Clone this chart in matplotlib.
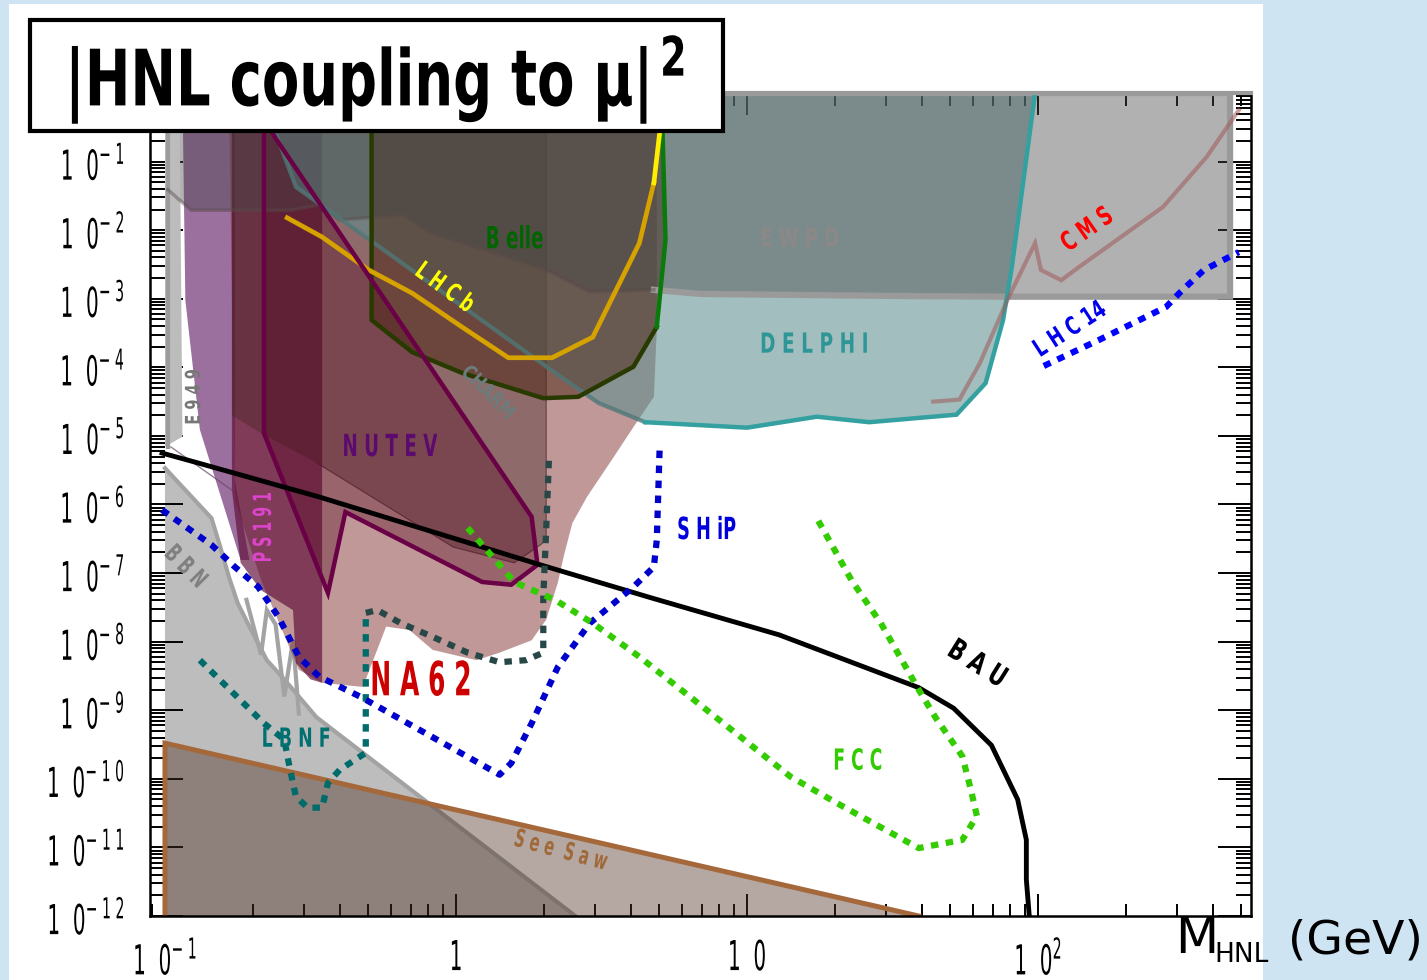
import numpy as np
import matplotlib
matplotlib.use("Agg")
import matplotlib.pyplot as plt
from matplotlib.patches import Rectangle
from matplotlib.patheffects import AbstractPathEffect
from matplotlib.transforms import Affine2D
from matplotlib.ticker import FixedLocator, LogLocator, NullFormatter

plt.rcParams['font.family'] = ['DejaVu Sans']

# ---- exclusion regions and sensitivity curves, log10(M/GeV) vs log10|U_mu|^2 ----
bbn_m = [-1.00, -0.84, -0.81, -0.78, -0.75, -0.71, -0.65, -0.59, -0.54, -0.48, 0.41, -1.00]
bbn_u = [-5.47, -6.20, -6.62, -7.06, -7.44, -7.78, -8.27, -8.55, -8.80, -9.10, -12.00, -12.00]
bbn_zig_m = [-0.72, -0.67, -0.65, -0.62, -0.59, -0.56, -0.54]
bbn_zig_u = [-7.39, -8.19, -7.54, -7.75, -8.80, -7.98, -9.05]

seesaw_m = [-1.00, -1.00, 1.59]
seesaw_u = [-12.00, -9.48, -12.00]

e949_m = [-1.00, -0.95, -0.94, -1.00]
e949_u = [0.00, 0.00, -5.01, -5.16]
e949_edge_m = [-0.98, -0.77]
e949_edge_u = [-5.16, -5.79]

purple_m = [-0.94, -0.76, -0.76, -0.71, -0.74, -0.88, -0.93]
purple_u = [0.00, 0.00, -5.64, -6.81, -6.81, -4.91, -3.02]

ps191_m = [-0.77, -0.46, -0.46, -0.50, -0.55, -0.56, -0.67, -0.74, -0.77]
ps191_u = [0.00, 0.00, -8.60, -8.55, -8.31, -7.54, -7.25, -6.85, -5.79]

na62_m = [-0.78, 0.69, 0.69, 0.68, 0.61, 0.54, 0.45, 0.40, 0.37, 0.35, 0.31,
          0.26, 0.15, 0.07, -0.08, -0.16, -0.24, -0.32, -0.46, -0.54, -0.67, -0.76]
na62_u = [0.00, 0.00, -3.45, -4.43, -4.87, -5.32, -5.89, -6.27, -6.76, -7.14, -7.68,
          -7.98, -8.16, -8.27, -8.12, -7.83, -7.78, -8.66, -8.60, -8.41, -7.10, -5.93]

charm_m = [-0.77, 0.31, 0.31, 0.29, 0.20, -0.01, -0.48, -0.67, -0.77]
charm_u = [0.00, 0.00, -6.52, -6.59, -6.85, -6.62, -5.39, -4.96, -4.70]

delphi_m = [-0.64, -0.62, -0.55, 0.34, 0.49, 0.65, 1.00, 1.24, 1.42, 1.72, 1.82, 1.88, 1.91, 1.99]
delphi_u = [0.00, -0.58, -1.37, -4.08, -4.52, -4.80, -4.88, -4.72, -4.80, -4.69, -4.23, -3.31, -2.54, 0.00]

belle_m = [-0.29, -0.29, -0.15, 0.02, 0.30, 0.42, 0.61, 0.69, 0.72, 0.71, 0.71]
belle_u = [0.00, -3.31, -3.78, -4.08, -4.45, -4.43, -3.99, -3.41, -2.14, -0.58, 0.00]

ewpd_m = [-0.99, 2.66, 2.66, 1.90, 1.53, 0.84, 0.68, 0.46, 0.31, -0.09, -0.18, -0.40, -0.47, -0.57, -0.91, -0.99]
ewpd_u = [0.00, 0.00, -2.97, -2.97, -2.96, -2.93, -2.87, -2.90, -2.58, -2.04, -1.78, -1.85, -1.63, -1.71, -1.71, -1.41]

nutev_m = [-0.66, -0.66, -0.44, -0.38, 0.09, 0.19, 0.28, 0.26, -0.62, -0.66]
nutev_u = [0.00, -4.96, -7.29, -6.11, -7.13, -7.17, -6.88, -6.18, -0.66, -0.36]

lhcb_m = [-0.58, -0.46, -0.30, -0.15, 0.02, 0.18, 0.33, 0.47, 0.63, 0.68, 0.70, 0.70]
lhcb_u = [-1.82, -2.10, -2.58, -2.92, -3.41, -3.86, -3.86, -3.56, -2.19, -1.31, -0.58, 0.00]

cms_m = [1.64, 1.73, 1.80, 1.90, 1.99, 2.01, 2.08, 2.14, 2.43, 2.58, 2.69]
cms_u = [-4.50, -4.47, -3.94, -2.97, -2.19, -2.58, -2.73, -2.54, -1.66, -0.93, -0.25]

bau_m = [-1.01, -0.89, -0.47, 0.29, 0.67, 1.11, 1.59, 1.71, 1.84, 1.93, 1.96, 1.96, 1.97]
bau_u = [-5.25, -5.39, -5.89, -6.88, -7.36, -7.90, -8.67, -8.97, -9.51, -10.30, -10.89, -11.47, -12.00]

ship_m = [-1.01, -0.84, -0.76, -0.68, -0.61, -0.54, -0.47, -0.33, 0.15, 0.19, 0.26, 0.35,
          0.46, 0.61, 0.68, 0.69, 0.70]
ship_u = [-6.08, -6.59, -6.91, -7.20, -7.64, -8.22, -8.51, -8.80, -9.94, -9.77, -9.19, -8.37,
          -7.73, -7.20, -6.91, -6.52, -5.16]

lhc14_m = [2.02, 2.21, 2.44, 2.49, 2.57, 2.69]
lhc14_u = [-3.98, -3.60, -3.12, -2.90, -2.58, -2.32]

fcc_m = [0.04, 0.20, 0.34, 0.47, 0.63, 0.83, 1.15, 1.32, 1.59, 1.74, 1.79, 1.77, 1.74, 1.65,
         1.59, 1.46, 1.36, 1.24]
fcc_u = [-6.34, -7.13, -7.39, -7.73, -8.22, -8.89, -9.97, -10.38, -11.01, -10.89, -10.54,
         -10.17, -9.67, -9.12, -8.70, -7.73, -7.11, -6.20]

lbnf_m = [-0.88, -0.66, -0.59, -0.57, -0.55, -0.51, -0.46, -0.44, -0.40, -0.31, -0.31, -0.31]
lbnf_u = [-8.27, -9.19, -9.43, -9.87, -10.26, -10.42, -10.42, -10.06, -9.87, -9.62, -8.80, -7.58]

na62f_m = [-0.31, -0.27, -0.19, -0.08, 0.04, 0.15, 0.24, 0.30, 0.30, 0.31, 0.32]
na62f_u = [-7.58, -7.54, -7.73, -7.93, -8.16, -8.30, -8.27, -8.16, -7.35, -6.37, -5.28]

# curve labels: text, log10 M, log10 U^2
label_text = ["B elle", "L H C b", "E W P D", "D E L P H I", "C M S", "L H C 14", "CHARM",
              "N U T E V", "P S 1 9 1", "E 9 4 9", "B B N", "N A 6 2", "L B N F",
              "S H iP", "F C C", "B A U", "S e e  S a w"]
label_m = [0.20, -0.04, 1.18, 1.23, 2.17, 2.11, 0.11, -0.23, -0.66, -0.90, -0.93, -0.12,
           -0.55, 0.86, 1.38, 1.79, 0.36]
label_u = [-2.14, -2.84, -2.14, -3.67, -2.00, -3.45, -4.37, -5.17, -6.33, -4.43, -6.91,
           -8.60, -9.43, -6.38, -9.75, -8.33, -11.05]

xtick_labels = ['1  0$^{\\mathregular{-\\ 1}}$', '1', '1  0', '1  0$^{\\mathregular{2}}$']
ytick_exp = list(range(1, 13))


class Squeeze(AbstractPathEffect):
    """Reshape glyphs: narrow along the baseline, optionally taller (condensed lettering)."""

    def __init__(self, sx, anchor='center', sy=1.0):
        super().__init__()
        self.sx = sx
        self.sy = sy
        self.anchor = anchor

    def draw_path(self, renderer, gc, tpath, affine, rgbFace=None):
        ext = tpath.get_extents()
        cx = {'left': ext.x0, 'right': ext.x1}.get(self.anchor, 0.5 * (ext.x0 + ext.x1))
        cy = 0.5 * (ext.y0 + ext.y1)
        squash = Affine2D().translate(-cx, -cy).scale(self.sx, self.sy).translate(cx, cy)
        renderer.draw_path(gc, tpath, squash + affine, rgbFace)


W, H = 1427, 980
fig = plt.figure(figsize=(W / 100, H / 100), dpi=100)
fig.patch.set_facecolor('#cfe4f2')
fig.add_artist(Rectangle((9 / W, 0), 1254 / W, 976 / H, transform=fig.transFigure,
                         facecolor='white', edgecolor='none', zorder=-1))

ax = fig.add_axes([150 / W, 64 / H, 1101 / W, 823 / H])
ax.set_xscale('log')
ax.set_yscale('log')
ax.set_xlim(10 ** -1.0515, 10 ** 2.732)
ax.set_ylim(1e-12, 1)
ax.set_facecolor('white')


def p(a):
    return 10.0 ** np.asarray(a)


def region(m, u, color, alpha, z):
    ax.fill(p(m), p(u), color=color, alpha=alpha, lw=0, zorder=z)


def curve(m, u, color, lw=3.2, z=20, **kw):
    ax.plot(p(m), p(u), color=color, lw=lw, zorder=z, solid_joinstyle='miter', **kw)


def dotted(m, u, color, z=22):
    ax.plot(p(m), p(u), color=color, lw=4.5, zorder=z, linestyle=(0, (1.2, 1.2)),
            dash_capstyle='butt')


# filled areas, back to front
region(bbn_m, bbn_u, '#bdbdbd', 1.0, 1)
curve(bbn_m[:11], bbn_u[:11], '#a3a3a3', lw=3, z=2)
curve(bbn_zig_m, bbn_zig_u, '#a3a3a3', lw=3, z=2)
region(seesaw_m, seesaw_u, '#4b2d1f', 0.41, 3)
region(purple_m, purple_u, '#58105d', 0.6, 4)
region(na62_m, na62_u, '#823232', 0.5, 5)
region(ps191_m, ps191_u, '#60103a', 0.68, 6)
region(charm_m, charm_u, '#462525', 0.4, 7)
ax.plot(p(charm_m[1:7]), p(charm_u[1:7]), color='#4a2a2a', lw=0.8, alpha=0.7, zorder=7)
region(nutev_m, nutev_u, '#53031f', 0.35, 8)
region(delphi_m, delphi_u, '#5f8f8f', 0.58, 9)
region(belle_m, belle_u, '#4a2410', 0.5, 10)
region(ewpd_m, ewpd_u, '#464646', 0.42, 11)
region(e949_m, e949_u, '#bcbcbc', 1.0, 12)
ax.plot(p([-0.99, -0.99]), p([0.0, -5.16]), color='#9c9c9c', lw=3, zorder=12)
ax.plot(p(e949_edge_m), p(e949_edge_u), color='#6a4a6a', lw=1, alpha=0.7, zorder=12)

# region outlines
curve(ewpd_m[:7], ewpd_u[:7], '#9a9a9a', lw=4.5, z=13)
curve(ewpd_m[6:], ewpd_u[6:], '#5a4a4a', lw=2.5, z=13, alpha=0.45)
curve(delphi_m[:6], delphi_u[:6], '#4f7878', lw=3, z=14, alpha=0.8)
curve(delphi_m[5:], delphi_u[5:], '#35a0a0', lw=3.2, z=14)
curve(cms_m, cms_u, '#a05a5a', lw=3, z=14, alpha=0.55)
curve(belle_m[:8], belle_u[:8], '#283a00', lw=3.2, z=15)
curve(belle_m[7:], belle_u[7:], '#0a7a0a', lw=3.2, z=15)
curve(lhcb_m[:10], lhcb_u[:10], '#d6a200', lw=3.4, z=16)
curve(lhcb_m[9:], lhcb_u[9:], '#ffee00', lw=3.4, z=16)
curve(nutev_m, nutev_u, '#6a0045', lw=3.2, z=17)
curve(seesaw_m, seesaw_u, '#a5683a', lw=3.6, z=18)
curve(bau_m, bau_u, 'black', lw=3.5, z=19)

# future sensitivities
dotted(lbnf_m, lbnf_u, '#006b6b')
dotted(na62f_m, na62f_u, '#284848')
dotted(ship_m, ship_u, '#0000cc')
dotted(fcc_m, fcc_u, '#33cc00')
dotted(lhc14_m, lhc14_u, '#0000ff')

# colour, rotation, size, horizontal squeeze
label_style = {
    "B elle": ('#006400', 0, 22, 0.60), "L H C b": ('#ffff00', -36, 18, 0.67),
    "E W P D": ('#8c8888', 0, 19, 0.68), "D E L P H I": ('#2e9696', 0, 20, 0.67),
    "C M S": ('#ff0000', 35, 19, 0.69), "L H C 14": ('#0000ee', 33, 18, 0.70),
    "CHARM": ('#6f7a7a', -45, 15, 0.78), "N U T E V": ('#5c0a6e', 0, 22, 0.60),
    "P S 1 9 1": ('#dd44cc', 90, 18, 0.57), "E 9 4 9": ('#777777', 90, 15, 0.70),
    "B B N": ('#808080', -45, 18, 0.64), "N A 6 2": ('#cc0000', 0, 34, 0.53),
    "L B N F": ('#007070', 0, 19, 0.66), "S H iP": ('#0000dd', 0, 22, 0.58),
    "F C C": ('#33cc00', 0, 21, 0.59), "B A U": ('#000000', -32, 21, 0.72),
    "S e e  S a w": ('#a0693a', -15, 18, 0.59),
}
for t, m, u in zip(label_text, label_m, label_u):
    c, rot, fs, sx = label_style[t]
    ax.text(10 ** m, 10 ** u, t, color=c, rotation=rot, fontsize=fs, fontweight='bold',
            ha='center', va='center', rotation_mode='anchor', zorder=30,
            path_effects=[Squeeze(sx)])

# axes, ticks
for s in ax.spines.values():
    s.set_linewidth(1.8)
    s.set_zorder(25)
ax.spines['top'].set_color('#9a9a9a')
ax.spines['top'].set_linewidth(3)
ax.xaxis.set_major_locator(FixedLocator([0.1, 1, 10, 100]))
ax.xaxis.set_minor_locator(LogLocator(base=10, subs=np.arange(2, 10), numticks=100))
ax.yaxis.set_major_locator(FixedLocator([10.0 ** -k for k in ytick_exp]))
ax.yaxis.set_minor_locator(LogLocator(base=10, subs=np.arange(2, 10), numticks=100))
ax.xaxis.set_minor_formatter(NullFormatter())
ax.yaxis.set_minor_formatter(NullFormatter())
xl = ax.set_xticklabels(xtick_labels)
yl = ax.set_yticklabels(['1  0$^{\\mathregular{-\\ ' + '\\ '.join(str(k)) + '}}$' for k in ytick_exp])
for t in xl:
    t.set_path_effects([Squeeze(0.8, sy=1.65)])
for t in yl:
    t.set_path_effects([Squeeze(0.8, 'right', sy=1.65)])
ax.tick_params(which='both', direction='in', top=True, right=True, width=1.4, colors='black')
ax.tick_params(axis='y', which='major', length=24, pad=18, labelsize=18)
ax.tick_params(axis='y', which='minor', length=11)
ax.tick_params(axis='x', which='major', length=16, pad=21, labelsize=18)
ax.tick_params(axis='x', which='minor', length=9)

# axis title
fig.text(1175 / W, 1 - 953 / H, 'M', fontsize=36, va='baseline')
fig.text(1214 / W, 1 - 962 / H, 'HNL', fontsize=19, va='baseline')
fig.text(1288 / W, 1 - 953 / H, '(GeV)', fontsize=34, va='baseline')

# title box
fig.add_artist(Rectangle((30 / W, 1 - 131 / H), 693 / W, 111 / H, transform=fig.transFigure,
                         facecolor='white', edgecolor='black', lw=3, zorder=10))
fig.text(62 / W, 1 - 106 / H, '|HNL coupling to μ|$^{\\,\\mathbf{2}}$', fontsize=56,
         fontweight='bold', va='baseline', zorder=11, path_effects=[Squeeze(0.70, 'left')])

fig.savefig('out.png', dpi=100, facecolor=fig.get_facecolor())
